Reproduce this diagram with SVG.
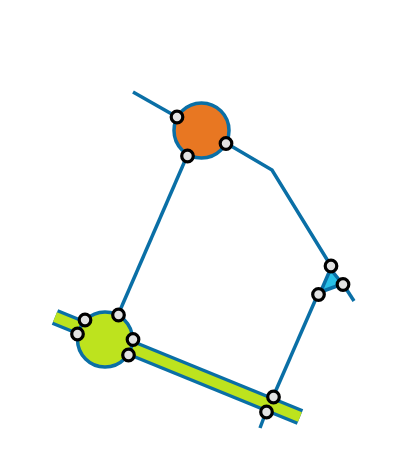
<svg xmlns="http://www.w3.org/2000/svg" width="419" height="467" viewBox="0 0 419 467">
<style>
.edge{fill:none;stroke:#0a6fa6;stroke-width:3.5;stroke-linecap:butt;stroke-linejoin:miter}
.port{fill:#e2e2e2;stroke:#000;stroke-width:3.2}
.node{stroke:#0a6fa6;stroke-width:3.5}
</style>
<rect width="419" height="467" fill="#fff"/>
<g id="band">
<path d="M55,317 L300,417" fill="none" stroke="#0a6fa6" stroke-width="17"/>
<path d="M55,317 L300,417" fill="none" stroke="#bde31e" stroke-width="10"/>
</g>
<g id="connectors">
<path class="edge" d="M133,92 L177,117"/>
<path class="edge" d="M226,143 L272,170 L331,266"/>
<path class="edge" d="M343,284 L354,301"/>
<path class="edge" d="M187,156 L118,315"/>
<path class="edge" d="M318,294 L273,397"/>
<path class="edge" d="M266,412 L260,428"/>
</g>
<g id="node-orange">
<circle class="node" cx="201.5" cy="130.5" r="27.5" fill="#e87722"/>
</g>
<g id="node-green">
<circle class="node" cx="105" cy="339.5" r="27.5" fill="#bde31e"/>
</g>
<g id="node-cyan">
<polygon class="node" points="330.5,269 342.5,284 320.5,292" fill="#29c0e6" stroke-linejoin="round"/>
</g>
<g id="ports">
<circle class="port" cx="177" cy="117" r="5.8"/>
<circle class="port" cx="226" cy="143.5" r="5.8"/>
<circle class="port" cx="187.5" cy="156" r="5.8"/>
<circle class="port" cx="85" cy="320" r="5.8"/>
<circle class="port" cx="77.5" cy="334" r="5.8"/>
<circle class="port" cx="118.5" cy="315" r="5.8"/>
<circle class="port" cx="133" cy="339.5" r="5.8"/>
<circle class="port" cx="128.5" cy="355" r="5.8"/>
<circle class="port" cx="331" cy="266" r="5.8"/>
<circle class="port" cx="343" cy="284.5" r="5.8"/>
<circle class="port" cx="318.5" cy="294.5" r="5.8"/>
<circle class="port" cx="273.5" cy="397" r="5.8"/>
<circle class="port" cx="266.5" cy="412" r="5.8"/>
</g>
</svg>
